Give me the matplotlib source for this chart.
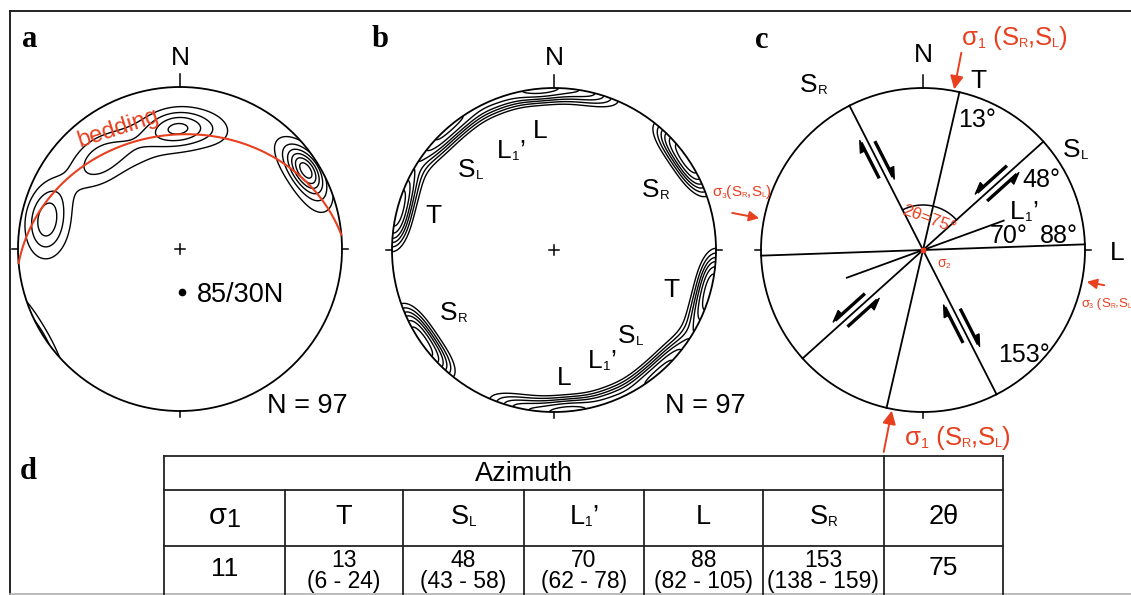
import numpy as np
import matplotlib
matplotlib.use('Agg')
import matplotlib.pyplot as plt
from matplotlib.patches import Circle, Polygon
from matplotlib.textpath import text_to_path
from matplotlib.font_manager import FontProperties

# ---------------- data ----------------
# panel a: bedding plane (strike / dip) and pole-density concentrations (trend, plunge, weight, kappa)
bedding_strike = 85
bedding_dip = 30
n_a = 97
clusters_a_trend = [288, 282, 277, 305, 318, 337, 355, 3, 15, 58, 50, 66]
clusters_a_plunge = [15, 17, 19, 22, 27, 31, 27, 26, 24, 9, 11, 9]
clusters_a_weight = [0.21, 0.21, 0.21, 0.06, 0.35, 0.22, 0.35, 0.3, 0.17, 0.7, 0.22, 0.25]
clusters_a_kappa = [45, 45, 45, 40, 45, 40, 55, 55, 50, 90, 60, 45]
levels_a = [0.15, 0.3, 0.45, 0.6, 0.75, 0.9]

# panel b: poles to fractures (T, S_R, S_L/L band)
n_b = 97
clusters_b_trend = [280, 292, 48, 60, 312, 325, 340, 355, 8, 18]
clusters_b_plunge = [0, 0, 0, 0, 0, 0, 0, 0, 0, 0]
clusters_b_weight = [1.0, 0.8, 0.8, 1.0, 0.9, 0.8, 0.8, 1.0, 0.6, 0.4]
clusters_b_kappa = [55, 55, 55, 55, 50, 55, 55, 60, 55, 55]
levels_b = [0.3, 0.4, 0.5, 0.6, 0.72, 0.86]

# panel c / table d: azimuths
sigma1 = 11
az_T, az_SL, az_L1, az_L, az_SR = 13, 48, 70, 88, 153
two_theta = 75
table_main = [13, 48, 70, 88, 153]
table_low = [6, 43, 62, 82, 138]
table_high = [24, 58, 78, 105, 159]

# ---------------- setup ----------------
FONT = 'Liberation Sans'
SERIF = 'Liberation Serif'
RED = '#e8401f'
PX = 100 / 72.0

fig = plt.figure(figsize=(11.31, 5.95), dpi=100)
ax = fig.add_axes([0, 0, 1, 1])
ax.set_xlim(0, 1131)
ax.set_ylim(595, 0)
ax.axis('off')


def twidth(s, size):
    fp = FontProperties(family=FONT, size=size)
    w, h, d = text_to_path.get_text_width_height_descent(s, fp, ismath=False)
    return w * PX


def rich(x, y, parts, size, color='black', ha='left'):
    """parts: list of (string, scale, drop_fraction)"""
    widths = [twidth(s, size * sc) for s, sc, dr in parts]
    total = sum(widths)
    if ha == 'center':
        x -= total / 2
    elif ha == 'right':
        x -= total
    for (s, sc, dr), w in zip(parts, widths):
        ax.text(x, y + dr * size * PX, s, fontsize=size * sc, color=color,
                family=FONT, ha='left', va='baseline')
        x += w


def S(letter, sub):
    return [(letter, 1.0, 0.0), (sub, 0.5, 0.08)]


def vec(trend, plunge):
    t = np.radians(trend)
    p = np.radians(plunge)
    return np.array([np.cos(p) * np.sin(t), np.cos(p) * np.cos(t), np.sin(p)])


def net(cx, cy, R, ntick=13, tick=6, cross=True):
    ax.add_patch(Circle((cx, cy), R, fill=False, lw=1.3, ec='k'))
    kw = dict(color='k', lw=1.1)
    ax.plot([cx, cx], [cy - R - ntick, cy - R], **kw)
    ax.plot([cx - R - tick, cx - R], [cy, cy], **kw)
    ax.plot([cx + R, cx + R + tick], [cy, cy], **kw)
    ax.plot([cx, cx], [cy + R, cy + R + tick], **kw)
    if cross:
        ax.plot([cx - 5, cx + 5], [cy, cy], **kw)
        ax.plot([cx, cx], [cy - 5, cy + 5], **kw)


def density(cx, cy, R, trends, plunges, weights, kappas, levels, lw=1.0):
    u = np.linspace(-1.12, 1.12, 451)
    U, V = np.meshgrid(u, u)
    r2 = U ** 2 + V ** 2
    D = 1 - r2
    s = np.sqrt(np.clip(1 + D, 0, None))
    E = U * s
    N = V * s
    Z = np.zeros_like(U)
    for tr, pl, w, k in zip(trends, plunges, weights, kappas):
        c = vec(tr, pl)
        dot = E * c[0] + N * c[1] + D * c[2]
        Z += w * (np.exp(k * (dot - 1)) + np.exp(k * (-dot - 1)))
    Z /= Z[r2 <= 1].max()
    cs = ax.contour(cx + R * U, cy - R * V, Z, levels=levels, colors='k',
                    linewidths=lw)
    cs.set_clip_path(Circle((cx, cy), R, transform=ax.transData))


def azpt(cx, cy, r, az):
    a = np.radians(az)
    return cx + r * np.sin(a), cy - r * np.cos(a)


# ---------------- frame ----------------
ax.plot([10, 10], [11, 595], color='#222222', lw=1.4)
ax.plot([10, 1131], [11, 11], color='#222222', lw=1.4)
ax.plot([10, 1131], [593.5, 593.5], color='#b0b0b0', lw=1.2)

for lab, x, y in [('a', 22, 47), ('b', 372, 47), ('c', 755, 48), ('d', 20, 479)]:
    ax.text(x, y, lab, fontsize=22, family=SERIF, weight='bold', va='baseline')

# ---------------- panel a ----------------
cxa, cya, R = 180, 249, 162
net(cxa, cya, R)
density(cxa, cya, R, clusters_a_trend, clusters_a_plunge, clusters_a_weight,
        clusters_a_kappa, levels_a)
sv = vec(bedding_strike, 0)
dv = vec((bedding_strike + 270) % 360, bedding_dip)
t = np.linspace(0, np.pi, 300)
gc = np.outer(np.cos(t), sv) + np.outer(np.sin(t), dv)
gx = gc[:, 0] / np.sqrt(1 + gc[:, 2])
gy = gc[:, 1] / np.sqrt(1 + gc[:, 2])
ax.plot(cxa + R * gx, cya - R * gy, color=RED, lw=1.5)
ax.text(118, 128, 'bedding', fontsize=17, family=FONT, color=RED, rotation=18,
        ha='center', va='center', rotation_mode='anchor')
ax.text(cxa, 65, 'N', fontsize=19, family=FONT, ha='center', va='baseline')
ax.plot([182], [292], 'o', color='k', ms=4.5)
ax.text(197, 302, f'{bedding_strike}/{bedding_dip}N', fontsize=19.5, family=FONT,
        va='baseline')
ax.text(267, 413, f'N = {n_a}', fontsize=19.5, family=FONT, va='baseline')

# ---------------- panel b ----------------
cxb, cyb = 554, 250
net(cxb, cyb, R)
density(cxb, cyb, R, clusters_b_trend, clusters_b_plunge, clusters_b_weight,
        clusters_b_kappa, levels_b)
ax.text(cxb, 65, 'N', fontsize=19, family=FONT, ha='center', va='baseline')
rich(458, 177, S('S', 'L'), 19)
rich(497, 158, [('L', 1, 0), ('1', 0.5, 0.08), ('\u2019', 1, 0)], 19)
rich(533, 138, [('L', 1, 0)], 19)
rich(425, 223, [('T', 1, 0)], 19)
rich(642, 197, S('S', 'R'), 19)
rich(663, 297, [('T', 1, 0)], 19)
rich(440, 320, S('S', 'R'), 19)
rich(588, 368, [('L', 1, 0), ('1', 0.5, 0.08), ('\u2019', 1, 0)], 19)
rich(618, 343, S('S', 'L'), 19)
rich(557, 385, [('L', 1, 0)], 19)
ax.text(665, 413, f'N = {n_b}', fontsize=19.5, family=FONT, va='baseline')

# ---------------- panel c ----------------
cxc, cyc = 923, 250
net(cxc, cyc, R, cross=False)
for az in [az_T, az_SL, az_L, az_SR]:
    x1, y1 = azpt(cxc, cyc, R, az)
    x2, y2 = azpt(cxc, cyc, R, az + 180)
    ax.plot([x1, x2], [y1, y2], color='k', lw=1.3)
x1, y1 = azpt(cxc, cyc, 0.53 * R, az_L1)
x2, y2 = azpt(cxc, cyc, 0.50 * R, az_L1 + 180)
ax.plot([x1, x2], [y1, y2], color='k', lw=1.3)

# 2theta arc between S_R and S_L
arc_az = np.linspace(az_SR + 180, az_SL + 360, 80)
ax.plot(cxc + 45 * np.sin(np.radians(arc_az)), cyc - 45 * np.cos(np.radians(arc_az)),
        color='k', lw=1.1)
ax.text(929, 219, f'2\u03b8={two_theta}\u00b0', fontsize=12.5, family=FONT, color=RED,
        rotation=-20, ha='center', va='center', rotation_mode='anchor')


def shear(az, dist, side, outward, off=6.5, L=40, hl=12, hw=5.5):
    a = np.radians(az)
    e = np.array([np.sin(a), -np.cos(a)])
    n = np.array([np.cos(a), np.sin(a)])
    c = np.array([cxc, cyc]) + dist * R * e + side * off * n
    p1 = c - L / 2 * e
    p2 = c + L / 2 * e
    ax.plot([p1[0], p2[0]], [p1[1], p2[1]], color='k', lw=2.4, solid_capstyle='butt')
    m = e if outward else -e
    tip = c + (L / 2 + 3) * m
    base = tip - hl * m
    ax.add_patch(Polygon([tip, base, base + side * hw * n], closed=True,
                         fc='k', ec='k', lw=0.8))


# S_R dextral: -n side moves outward, +n side inward
shear(az_SR + 180, 0.64, -1, True)
shear(az_SR + 180, 0.61, +1, False)
shear(az_SR, 0.50, +1, False)
shear(az_SR, 0.55, -1, True)
# S_L sinistral: +n side moves outward, -n side inward
shear(az_SL, 0.61, -1, False)
shear(az_SL, 0.62, +1, True)
shear(az_SL + 180, 0.57, +1, True)
shear(az_SL + 180, 0.54, -1, False)

ax.plot([cxc], [cyc], 's', color=RED, ms=3.5)
rich(937, 267, [('\u03c3', 1, 0), ('2', 0.6, 0.1)], 10, color=RED)

ax.text(cxc, 62, 'N', fontsize=19, family=FONT, ha='center', va='baseline')
rich(970, 88, [('T', 1, 0)], 19)
rich(800, 92, S('S', 'R'), 19)
rich(958, 127, [(f'{az_T}\u00b0', 1, 0)], 18)
rich(1063, 157, S('S', 'L'), 19)
rich(1022, 187, [(f'{az_SL}\u00b0', 1, 0)], 18)
rich(1010, 219, [('L', 1, 0), ('1', 0.5, 0.08), ('\u2019', 1, 0)], 19)
rich(990, 243, [(f'{az_L1}\u00b0', 1, 0)], 18)
rich(1040, 243, [(f'{az_L}\u00b0', 1, 0)], 18)
rich(1110, 260, [('L', 1, 0)], 19)
rich(998, 362, [(f'{az_SR}\u00b0', 1, 0)], 18)


# stress arrows
def red_arrow(az, r0, r1, ms):
    xt, yt = azpt(cxc, cyc, r0 * R, az)
    xh, yh = azpt(cxc, cyc, r1 * R, az)
    ax.annotate('', xy=(xh, yh), xytext=(xt, yt),
                arrowprops=dict(arrowstyle='-|>', color=RED, lw=1.4,
                                mutation_scale=ms, shrinkA=0, shrinkB=0))


red_arrow(sigma1, 1.24, 1.01, 20)
red_arrow(sigma1 + 180, 1.27, 1.01, 20)
red_arrow(sigma1 + 270, 1.2, 1.03, 15)
red_arrow(sigma1 + 90, 1.14, 1.03, 15)

sig_parts = [('\u03c3', 1, 0), ('1', 0.55, 0.1), (' (', 1, 0), ('S', 1, 0), ('R', 0.5, 0.08),
             (',', 1, 0), ('S', 1, 0), ('L', 0.5, 0.08), (')', 1, 0)]
rich(962, 45, sig_parts, 18.5, color=RED)
rich(905, 445, sig_parts, 18.5, color=RED)
sig3 = [('\u03c3', 1, 0), ('3', 0.55, 0.1), ('(', 1, 0), ('S', 1, 0), ('R', 0.5, 0.08),
        (',', 1, 0), ('S', 1, 0), ('L', 0.5, 0.08), (')', 1, 0)]
rich(712, 196, sig3, 11, color=RED)
sig3b = [('\u03c3', 1, 0), ('3', 0.55, 0.1), (' (', 1, 0), ('S', 1, 0), ('R', 0.5, 0.08),
         (',', 1, 0), ('S', 1, 0), ('L', 0.5, 0.08)]
rich(1081, 307, sig3b, 9.5, color=RED)

# ---------------- table d ----------------
tl = dict(color='#222222', lw=1.3)
xl, xr, x2t = 164, 1003, 884
y0, y1, y2, y3 = 456, 489.5, 546, 600
colx = [164, 285, 402.5, 524, 644, 763, 884, 1003]
for yy in [y0, y1, y2]:
    ax.plot([xl, xr], [yy, yy], **tl)
for xx in [xl, x2t, xr]:
    ax.plot([xx, xx], [y0, y3], **tl)
for xx in colx[1:6]:
    ax.plot([xx, xx], [y1, y3], **tl)
rich((xl + x2t) / 2, 481, [('Azimuth', 1, 0)], 19.5, ha='center')
centers = [(colx[i] + colx[i + 1]) / 2 for i in range(7)]
rich(centers[0], 524, [('\u03c3', 1.1, 0), ('1', 0.95, 0.12)], 19, ha='center')
head_parts = [[('T', 1, 0)], S('S', 'L'),
              [('L', 1, 0), ('1', 0.5, 0.08), ('\u2019', 1, 0)],
              [('L', 1, 0)], S('S', 'R')]
for i, hp in enumerate(head_parts):
    rich(centers[i + 1], 524, hp, 19.5, ha='center')
rich(centers[6], 524, [('2\u03b8', 1, 0)], 19.5, ha='center')
rich(centers[0], 576, [(str(sigma1), 1, 0)], 19, ha='center')
for i in range(5):
    rich(centers[i + 1], 567, [(str(table_main[i]), 1, 0)], 16.5, ha='center')
    rich(centers[i + 1], 588, [(f'({table_low[i]} - {table_high[i]})', 1, 0)], 16.5,
         ha='center')
rich(centers[6], 575, [(str(two_theta), 1, 0)], 19, ha='center')

fig.savefig('out.png', dpi=100)
